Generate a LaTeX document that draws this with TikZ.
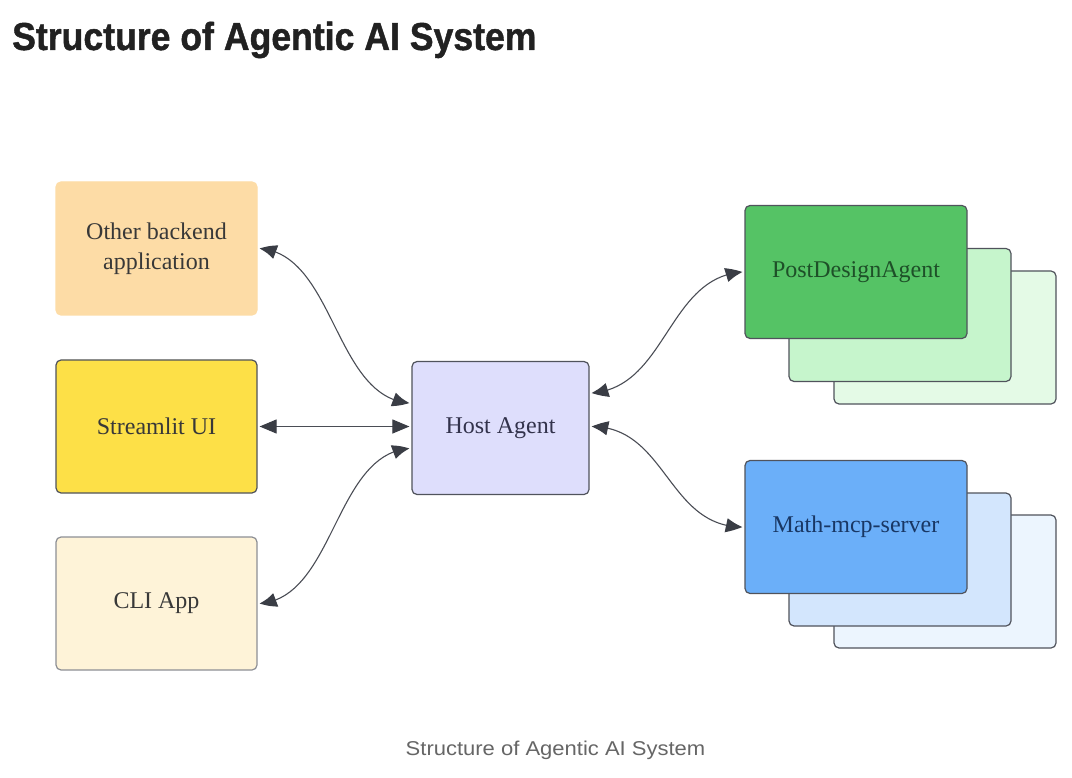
\documentclass[tikz,border=0pt]{standalone}
\usepackage{fontspec}
\setmainfont{Liberation Serif}
\newfontfamily\titlefont{Liberation Sans}
\newfontfamily\titleheavy[BoldFeatures={FakeBold=1.2}]{Liberation Sans}
\usetikzlibrary{arrows.meta,bending}
\definecolor{obfill}{HTML}{FDDCA6}
\definecolor{stfill}{HTML}{FDE047}
\definecolor{clifill}{HTML}{FEF3D8}
\definecolor{hostfill}{HTML}{DEDEFC}
\definecolor{gA}{HTML}{55C365}
\definecolor{gB}{HTML}{C6F5CC}
\definecolor{gC}{HTML}{E4FAE6}
\definecolor{bA}{HTML}{6BAFF9}
\definecolor{bB}{HTML}{D3E6FD}
\definecolor{bC}{HTML}{ECF5FE}
\definecolor{edge}{HTML}{50535C}
\definecolor{linec}{HTML}{4A4D55}
\definecolor{tipc}{HTML}{3A3D45}
\begin{document}
\begin{tikzpicture}[x=1pt,y=1pt,
  box/.style={draw=edge, line width=1.2pt, rounded corners=5pt, align=center,
    font=\fontsize{24}{30}\selectfont, text=black!78, inner sep=0pt},
  leftbox/.style={box, minimum width=201pt, minimum height=133pt},
  hostbox/.style={box, minimum width=177pt, minimum height=133pt},
  stackbox/.style={box, minimum width=222pt, minimum height=133pt},
  conn/.style={draw=linec, line width=1.1pt,
    {Triangle[length=17pt,width=14pt,color=tipc,bend]}-{Triangle[length=17pt,width=14pt,color=tipc,bend]}}
]
\useasboundingbox (0,0) rectangle (1072,-778);
\fill[white] (0,0) rectangle (1072,-778);

\node[anchor=base west, inner sep=0pt, font=\titleheavy\bfseries\fontsize{39}{40}\selectfont, text=black!87] (title) at (12,-50) {\scalebox{0.913}[1]{Structure of Agentic AI System}};

\node[leftbox, fill=obfill, draw=obfill] (ob) at (156.5,-248.5) {Other backend\\application};
\node[leftbox, fill=stfill] (st) at (156.5,-426.5) {Streamlit UI};
\node[leftbox, fill=clifill, draw=edge!65] (cli) at (156.5,-603.5) {CLI App};
\node[hostbox, fill=hostfill, text={rgb,255:red,50;green,50;blue,75}] (host) at (500.5,-428) {Host Agent};

\node[stackbox, fill=gC] (pd3) at (945,-337.5) {};
\node[stackbox, fill=gB] (pd2) at (900,-315) {};
\node[stackbox, fill=gA, text={rgb,255:red,30;green,80;blue,40}] (pd) at (856,-272) {PostDesignAgent};

\node[stackbox, fill=bC] (m3) at (945,-581.5) {};
\node[stackbox, fill=bB] (m2) at (900,-559.5) {};
\node[stackbox, fill=bA, text={rgb,255:red,25;green,55;blue,100}] (m) at (856,-527) {Math-mcp-server};

\draw[conn] ([xshift=2pt]ob.east) .. controls +(75,-5) and +(-75,5) .. ([xshift=-2pt,yshift=25pt]host.west);
\draw[conn] ([xshift=2pt]st.east) -- ([xshift=-2pt,yshift=1.5pt]host.west);
\draw[conn] ([xshift=2pt]cli.east) .. controls +(75,5) and +(-75,-5) .. ([xshift=-2pt,yshift=-20.5pt]host.west);
\draw[conn] ([xshift=2pt,yshift=35pt]host.east) .. controls +(75,5) and +(-75,-5) .. ([xshift=-2pt]pd.west);
\draw[conn] ([xshift=2pt,yshift=1.5pt]host.east) .. controls +(75,0) and +(-75,0) .. ([xshift=-2pt]m.west);

\node[anchor=base, inner sep=0pt, font=\titlefont\fontsize{20}{22}\selectfont, text=black!60] (cap) at (555.5,-755) {\scalebox{1.1}[1]{Structure of Agentic AI System}};
\end{tikzpicture}
\end{document}
